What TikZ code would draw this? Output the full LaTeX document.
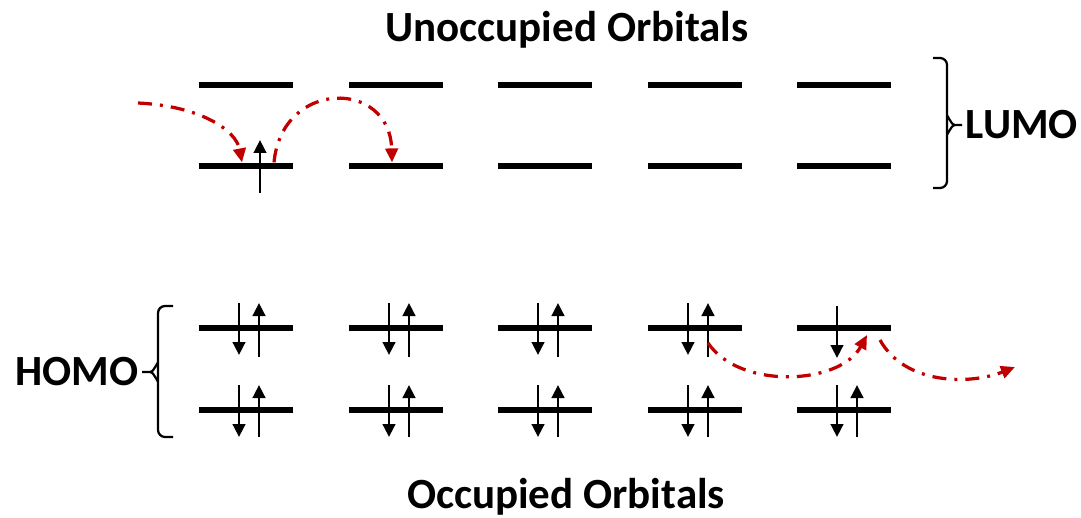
\documentclass[tikz,border=0pt]{standalone}
\usepackage{fontspec}
\setmainfont{Carlito}
\usepackage{tikz}
\usetikzlibrary{arrows.meta,positioning,calc}
\definecolor{hopred}{RGB}{192,0,0}
\tikzset{
    level/.style={rectangle, fill=black, inner sep=0pt, minimum width=1.88cm, minimum height=0.13cm},
    spin/.style={-{Triangle[length=0.26cm, width=0.25cm]}, line width=0.055cm},
    hop/.style={-{Triangle[length=0.28cm, width=0.25cm]}, line width=0.065cm, hopred,
        dash pattern=on 0.28cm off 0.16cm on 0.06cm off 0.16cm},
    brace/.style={line width=0.045cm, rounded corners=0.14cm},
    title/.style={font=\fontsize{24.5}{29}\selectfont\bfseries, inner sep=0pt}
}

\begin{document}
\begin{tikzpicture}[x=0.02cm, y=-0.02cm]
    \useasboundingbox (0,0) rectangle (1081,517);
    % titles
    \node[title] (unocc) at (567,30) {Unoccupied Orbitals};
    \node[title] (occ) at (566,497) {Occupied Orbitals};

    % orbital levels
    \foreach \i/\x in {1/246,2/396,3/545,4/695,5/844} {
        \node[level] (lu\i) at (\x,85) {};
        \node[level] (ll\i) at (\x,166) {};
        \node[level] (hu\i) at (\x,328) {};
        \node[level] (hl\i) at (\x,410) {};
    }

    % electrons
    \foreach \i in {1,...,4} {
        \draw[spin] ($(hu\i)+(-7,-25)$) -- ($(hu\i)+(-7,27)$);
        \draw[spin] ($(hu\i)+(13,29)$) -- ($(hu\i)+(13,-25)$);
    }
    \draw[spin] ($(hu5)+(-7,-22)$) -- ($(hu5)+(-7,30)$);
    \foreach \i in {1,...,5} {
        \draw[spin] ($(hl\i)+(-7,-25)$) -- ($(hl\i)+(-7,27)$);
        \draw[spin] ($(hl\i)+(13,27)$) -- ($(hl\i)+(13,-25)$);
    }
    \draw[spin] ($(ll1)+(14,27)$) -- ($(ll1)+(14,-26)$);

    % brackets
    \coordinate (lumotip) at (962,125);
    \coordinate (homotip) at (142,372);
    \draw[brace] (933,58) -- (947,58) -- (947,188) -- (933,188);
    \draw[line width=0.045cm] (947,117) to[out=90,in=180] ++(8,8) -- (lumotip);
    \draw[line width=0.045cm] (947,133) to[out=-90,in=180] ++(8,-8);
    \draw[brace] (173,306) -- (158,306) -- (158,437) -- (173,437);
    \draw[line width=0.045cm] (158,364) to[out=90,in=0] ++(-8,8) -- (homotip);
    \draw[line width=0.045cm] (158,380) to[out=-90,in=0] ++(-8,-8);
    \node[title, right=2pt of lumotip] (lumo) {LUMO};
    \node[title, left=2pt of homotip] (homo) {HOMO};

    % hopping paths
    \coordinate (hopin) at (138,103);
    \coordinate (hopout) at (1015,367);
    \draw[hop] (hopin) .. controls (200,106) and (236,130) .. ($(ll1.north)+(-4,0)$);
    \draw[hop] ($(ll1.north)+(28,0)$) .. controls (282,79) and (390,79) .. ($(ll2.north)+(-4,0)$);
    \draw[hop] ($(hu4)+(13,15)$) .. controls (740,390) and (840,385) .. ($(hu5)+(23,7)$);
    \draw[hop] ($(hu5)+(36,12)$) .. controls (905,385) and (970,385) .. (hopout);
\end{tikzpicture}
\end{document}
